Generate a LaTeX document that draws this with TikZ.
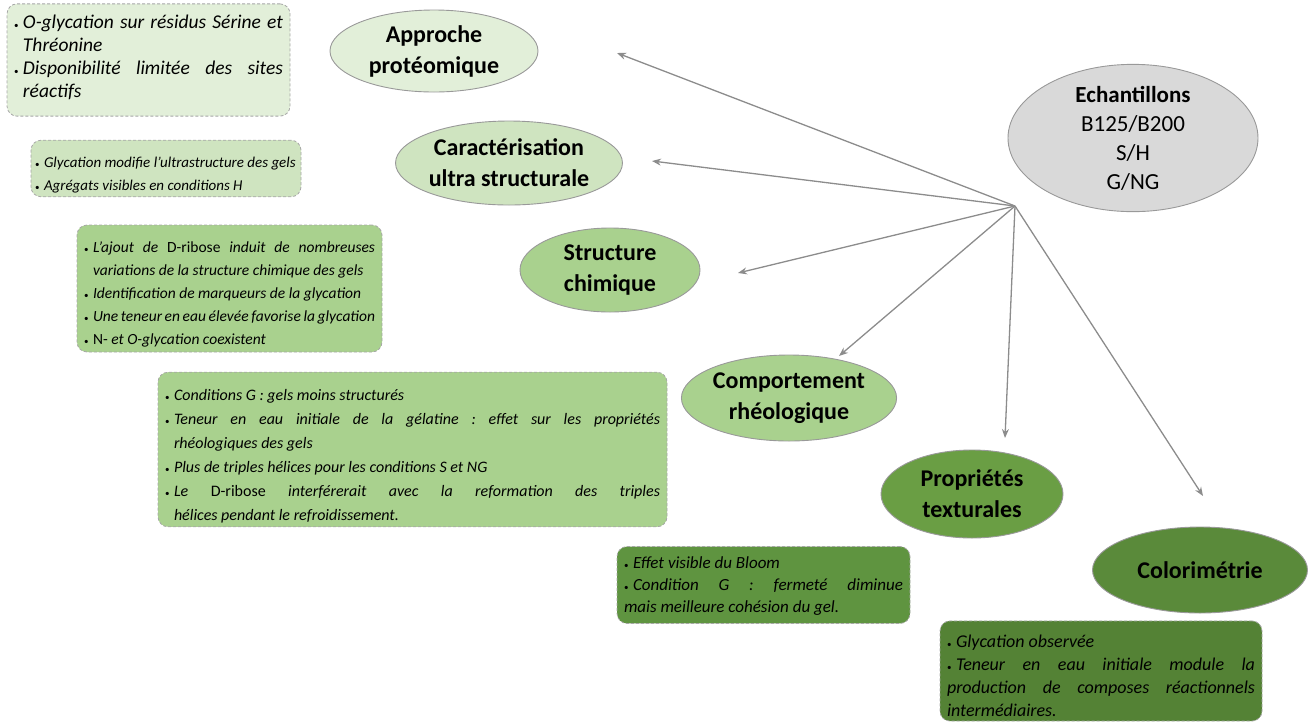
\documentclass[tikz,border=0pt]{standalone}
\usepackage{fontspec}
\setmainfont{Carlito}
\frenchspacing
\usetikzlibrary{shapes.geometric,arrows.meta}
\definecolor{gA}{HTML}{E2EFD9}
\definecolor{gB}{HTML}{CFE4C0}
\definecolor{gC}{HTML}{A9D18E}
\definecolor{gD}{HTML}{A9D18E}
\definecolor{gE}{HTML}{6A9E44}
\definecolor{gF}{HTML}{5A8A3A}
\definecolor{gEb}{HTML}{5F9440}
\definecolor{gFb}{HTML}{548235}
\definecolor{greyfill}{HTML}{D9D9D9}
\definecolor{linegrey}{HTML}{8C8C8C}
% bullet item with hanging indent
\newcommand{\bitem}[1]{\par\noindent\hangindent=9pt\hangafter=1\hbox to 9pt{\upshape\small\textbullet\hss}\ignorespaces#1\par}
% bullet item without hanging indent
\newcommand{\citem}[1]{\par\noindent\hbox to 9pt{\upshape\small\textbullet\hss}\ignorespaces#1\par}
\newcommand{\padbottom}[1]{\par\vspace{#1}\hrule height 0pt width 0pt}
\tikzset{
  txtbox/.style={draw=gray!70, densely dashed, line width=0.8pt, rounded corners=10pt,
    align=justify, inner xsep=7pt, inner ysep=4pt},
  bf/.style 2 args={font=\fontsize{#1}{#2}\selectfont\itshape\frenchspacing},
  topic/.style={ellipse, draw=gray!80, line width=0.9pt, inner sep=0pt, align=center,
    font=\fontsize{24}{31}\selectfont\bfseries},
  link/.style={draw=linegrey, line width=1.3pt, -{Stealth[length=9pt,width=7pt]}}
}
\begin{document}
\begin{tikzpicture}[x=1pt,y=-1pt]
\useasboundingbox (0,0) rectangle (1312,724);

% central node
\node[ellipse, draw=gray!80, line width=0.9pt, fill=greyfill, minimum width=250pt, minimum height=132pt,
  inner sep=0pt, align=center, font=\fontsize{23}{29}\selectfont] (ech) at (1133,138)
  {\textbf{Echantillons}\\B125/B200\\S/H\\G/NG};

% topic ellipses
\node[topic, fill=gA, minimum width=208pt, minimum height=82pt] (prot) at (434,51) {Approche\\protéomique};
\node[topic, fill=gB, minimum width=208pt, minimum height=84pt] (ultra) at (509,163) {Caractérisation\\ultra structurale};
\node[topic, fill=gC, minimum width=180pt, minimum height=84pt] (chim) at (610,270) {Structure\\chimique};
\node[topic, fill=gD, minimum width=208pt, minimum height=86pt] (rheo) at (789,398) {Comportement\\rhéologique};
\node[topic, fill=gE, minimum width=182pt, minimum height=88pt] (text) at (972,494) {Propriétés\\texturales};
\node[topic, fill=gF, minimum width=215pt, minimum height=86pt] (colo) at (1200,570) {Colorimétrie};

% arrows from the hub
\coordinate (hub) at (1015,206);
\coordinate (eprot) at (617,53);
\coordinate (eultra) at (652,161);
\coordinate (echim) at (738,273);
\coordinate (erheo) at (839,356);
\coordinate (etext) at (1005,438);
\coordinate (ecolo) at (1203,496);
\foreach \e in {eprot,eultra,echim,erheo,etext,ecolo}
  \draw[link] (hub) -- (\e);

% text boxes
\node[txtbox, bf={19.5}{23}, fill=gA, inner ysep=2pt, text width=269pt, minimum height=110pt] (b1) at (148.5,60)
{\bitem{O-glycation sur résidus Sérine et\linebreak Thréonine}
 \bitem{Disponibilité limitée des sites\linebreak réactifs}\padbottom{14pt}};

\node[txtbox, bf={15}{23}, fill=gB, inner xsep=4pt, text width=262pt, minimum height=53pt] (b2) at (166,168.5)
{\bitem{Glycation modifie l’ultrastructure des gels}
 \bitem{Agrégats visibles en conditions H}};

\node[txtbox, bf={15.5}{23}, fill=gC, text width=291pt, minimum height=127pt] (b3) at (229.5,288.5)
{\bitem{L’ajout de {\upshape D-ribose} induit de nombreuses\linebreak variations de la structure chimique des gels}
 \bitem{Identification de marqueurs de la glycation}
 \bitem{Une teneur en eau élevée favorise la glycation}
 \bitem{{\upshape N-} et O-glycation coexistent}};

\node[txtbox, bf={16}{24}, fill=gC, text width=495pt, minimum height=147pt] (b4) at (412.5,449.5)
{\bitem{Conditions G : gels moins structurés}
 \bitem{Teneur en eau initiale de la gélatine : effet sur les propriétés\linebreak rhéologiques des gels}
 \bitem{Plus de triples hélices pour les conditions S et NG}
 \bitem{Le {\upshape D-ribose} interférerait avec la reformation des triples\linebreak hélices pendant le refroidissement.}};

\node[txtbox, bf={17}{22}, fill=gEb, inner ysep=0pt, text width=279pt, minimum height=76pt] (b5) at (763.5,585)
{\citem{Effet visible du Bloom}
 \citem{Condition G : fermeté diminue\linebreak mais meilleure cohésion du gel.}\padbottom{8pt}};

\node[txtbox, bf={18}{23}, fill=gFb, text width=308pt, minimum height=98pt] (b6) at (1101,671)
{\citem{Glycation observée}
 \citem{Teneur en eau initiale module la\linebreak production de composes réactionnels\linebreak intermédiaires.}};
\end{tikzpicture}
\end{document}
